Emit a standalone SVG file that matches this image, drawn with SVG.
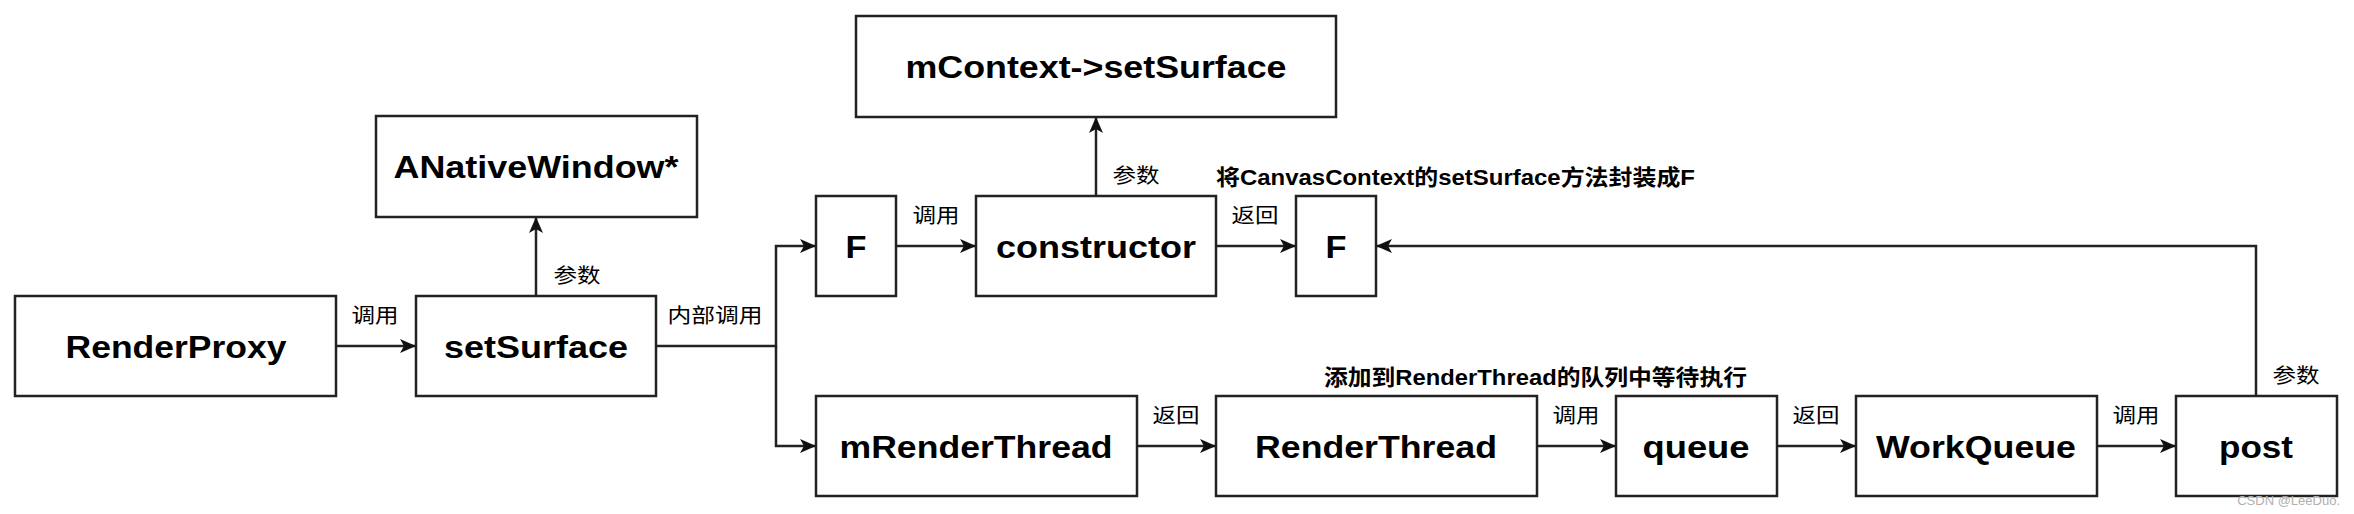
<svg xmlns="http://www.w3.org/2000/svg" width="2354" height="514" viewBox="0 0 2354 514">
<style>
.box{fill:#fff;stroke:#222;stroke-width:2.5}
.lbl{font-family:"Liberation Sans",Arial,sans-serif;font-weight:bold;font-size:32px;fill:#000;text-anchor:middle}
.el{font-family:"Noto Sans CJK SC","Liberation Sans",sans-serif;font-size:20px;fill:#000;text-anchor:middle}
.cap{font-family:"Liberation Sans","Noto Sans CJK SC",sans-serif;font-weight:bold;font-size:22px;fill:#000}
.ln{fill:none;stroke:#222;stroke-width:2.5}
</style>
<defs>
<marker id="ah" viewBox="0 0 16 14" refX="15" refY="7" markerWidth="16" markerHeight="14" markerUnits="userSpaceOnUse" orient="auto">
<path d="M0,0 L16,7 L0,14 L4,7 Z" fill="#111"/>
</marker>
</defs>
<rect width="2354" height="514" fill="#fff"/>
<g id="connectors">
<path class="ln" d="M336,346 H415" marker-end="url(#ah)"/>
<path class="ln" d="M536,296 V218" marker-end="url(#ah)"/>
<path class="ln" d="M656,346 H776 V246 H815" marker-end="url(#ah)"/>
<path class="ln" d="M776,346 V446 H815" marker-end="url(#ah)"/>
<path class="ln" d="M896,246 H975" marker-end="url(#ah)"/>
<path class="ln" d="M1096,196 V118" marker-end="url(#ah)"/>
<path class="ln" d="M1216,246 H1295" marker-end="url(#ah)"/>
<path class="ln" d="M2256,396 V246 H1377" marker-end="url(#ah)"/>
<path class="ln" d="M1137,446 H1215" marker-end="url(#ah)"/>
<path class="ln" d="M1537,446 H1615" marker-end="url(#ah)"/>
<path class="ln" d="M1777,446 H1855" marker-end="url(#ah)"/>
<path class="ln" d="M2097,446 H2175" marker-end="url(#ah)"/>
<text class="el" x="375" y="323" textLength="47" lengthAdjust="spacingAndGlyphs">调用</text>
<text class="el" x="577" y="283" textLength="47" lengthAdjust="spacingAndGlyphs">参数</text>
<text class="el" x="715" y="323" textLength="95" lengthAdjust="spacingAndGlyphs">内部调用</text>
<text class="el" x="936" y="223" textLength="47" lengthAdjust="spacingAndGlyphs">调用</text>
<text class="el" x="1136" y="183" textLength="47" lengthAdjust="spacingAndGlyphs">参数</text>
<text class="el" x="1255" y="223" textLength="47" lengthAdjust="spacingAndGlyphs">返回</text>
<text class="cap" x="1216" y="185" textLength="479" lengthAdjust="spacingAndGlyphs">将CanvasContext的setSurface方法封装成F</text>
<text class="el" x="1176" y="423" textLength="47" lengthAdjust="spacingAndGlyphs">返回</text>
<text class="cap" x="1324" y="385" textLength="423" lengthAdjust="spacingAndGlyphs">添加到RenderThread的队列中等待执行</text>
<text class="el" x="1576" y="423" textLength="47" lengthAdjust="spacingAndGlyphs">调用</text>
<text class="el" x="1816" y="423" textLength="47" lengthAdjust="spacingAndGlyphs">返回</text>
<text class="el" x="2136" y="423" textLength="47" lengthAdjust="spacingAndGlyphs">调用</text>
<text class="el" x="2296" y="383" textLength="47" lengthAdjust="spacingAndGlyphs">参数</text>
</g>
<g id="RenderProxy"><rect class="box" x="15" y="296" width="321" height="100"/><text class="lbl" x="176" y="358" textLength="221" lengthAdjust="spacingAndGlyphs">RenderProxy</text></g>
<g id="setSurface"><rect class="box" x="416" y="296" width="240" height="100"/><text class="lbl" x="536" y="358" textLength="184" lengthAdjust="spacingAndGlyphs">setSurface</text></g>
<g id="ANativeWindow"><rect class="box" x="376" y="116" width="321" height="101"/><text class="lbl" x="536" y="178" textLength="285" lengthAdjust="spacingAndGlyphs">ANativeWindow*</text></g>
<g id="F1"><rect class="box" x="816" y="196" width="80" height="100"/><text class="lbl" x="856" y="258" textLength="21" lengthAdjust="spacingAndGlyphs">F</text></g>
<g id="constructor"><rect class="box" x="976" y="196" width="240" height="100"/><text class="lbl" x="1096" y="258" textLength="200" lengthAdjust="spacingAndGlyphs">constructor</text></g>
<g id="mContextSetSurface"><rect class="box" x="856" y="16" width="480" height="101"/><text class="lbl" x="1096" y="78" textLength="381" lengthAdjust="spacingAndGlyphs">mContext-&gt;setSurface</text></g>
<g id="F2"><rect class="box" x="1296" y="196" width="80" height="100"/><text class="lbl" x="1336" y="258" textLength="21" lengthAdjust="spacingAndGlyphs">F</text></g>
<g id="mRenderThread"><rect class="box" x="816" y="396" width="321" height="100"/><text class="lbl" x="976" y="458" textLength="273" lengthAdjust="spacingAndGlyphs">mRenderThread</text></g>
<g id="RenderThread"><rect class="box" x="1216" y="396" width="321" height="100"/><text class="lbl" x="1376" y="458" textLength="242" lengthAdjust="spacingAndGlyphs">RenderThread</text></g>
<g id="queue"><rect class="box" x="1616" y="396" width="161" height="100"/><text class="lbl" x="1696" y="458" textLength="107" lengthAdjust="spacingAndGlyphs">queue</text></g>
<g id="WorkQueue"><rect class="box" x="1856" y="396" width="241" height="100"/><text class="lbl" x="1976" y="458" textLength="200" lengthAdjust="spacingAndGlyphs">WorkQueue</text></g>
<g id="post"><rect class="box" x="2176" y="396" width="161" height="100"/><text class="lbl" x="2256" y="458" textLength="74" lengthAdjust="spacingAndGlyphs">post</text></g>
<text x="2340" y="505" font-family="'Liberation Sans',sans-serif" font-size="13" fill="#b0b0b0" text-anchor="end">CSDN @LeeDuo.</text>
</svg>
